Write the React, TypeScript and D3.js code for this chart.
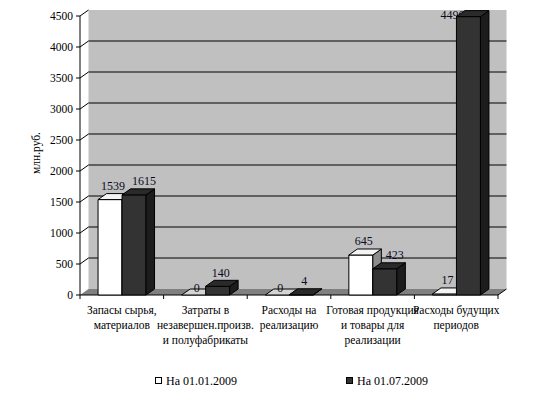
import React from "react";
import * as d3 from "d3";

const categories: string[][] = [
  ["Запасы сырья,", "материалов"],
  ["Затраты в", "незавершен.произв.", "и полуфабрикаты"],
  ["Расходы на", "реализацию"],
  ["Готовая продукция", "и товары для", "реализации"],
  ["Расходы будущих", "периодов"],
];
const seriesNames = ["На 01.01.2009", "На 01.07.2009"];
const values2009Jan = [1539, 0, 0, 645, 17];
const values2009Jul = [1615, 140, 4, 423, 4490];
const yTicks = [0, 500, 1000, 1500, 2000, 2500, 3000, 3500, 4000, 4500];

const W = 537;
const H = 400;
const left = 80;
const right = 498;
const top = 16;
const bottom = 295;
const DX = 8.5;
const DY = 6;
const FONT = "'Liberation Serif', 'Times New Roman', serif";

const colors = [
  { front: "#ffffff", top: "#f4f4f4", side: "#8c8c8c" },
  { front: "#333333", top: "#2a2a2a", side: "#1c1c1c" },
];

export default function App() {
  const idx = categories.map((_, i) => String(i));
  const x0 = d3.scaleBand<string>().domain(idx).range([left, right]).padding(0);
  const bw = x0.bandwidth();
  const x1 = d3
    .scaleBand<string>()
    .domain(["0", "1"])
    .range([bw * 0.216, bw * 0.79])
    .padding(0);
  const w = x1.bandwidth();
  const y = d3.scaleLinear().domain([0, 4500]).range([bottom, top]);
  const series = [values2009Jan, values2009Jul];

  const bars: any[] = [];
  const labelsFront: any[] = [];
  const labelsBack: any[] = [];
  categories.forEach((_, ci) => {
    series.forEach((vals, si) => {
      const v = vals[ci];
      const x = (x0(String(ci)) as number) + (x1(String(si)) as number);
      const yt = y(v);
      const c = colors[si];
      const key = `${ci}-${si}`;
      bars.push(
        <g key={key} stroke="#000" strokeWidth={1} strokeLinejoin="round">
          {v > 0 && (
            <rect x={x} y={yt} width={w} height={bottom - yt} fill={c.front} />
          )}
          {v > 0 && (
            <polygon
              points={`${x + w},${yt} ${x + w + DX},${yt - DY} ${x + w + DX},${bottom - DY} ${x + w},${bottom}`}
              fill={c.side}
            />
          )}
          <polygon
            points={`${x},${yt} ${x + DX},${yt - DY} ${x + w + DX},${yt - DY} ${x + w},${yt}`}
            fill={v > 0 ? c.top : si === 0 ? "#d4d4d4" : "#2a2a2a"}
          />
        </g>
      );
      let ly = v > 0 ? yt - 14 : yt - 7;
      const off = si === 0 ? 3 : v > 300 ? 10 : 3;
      let lx = x + w / 2 + off;
      let clamped = false;
      if (ly < 15) {
        ly = 15;
        lx -= 26;
        clamped = true;
      }
      const el = (
        <text
          key={"l" + key}
          x={lx}
          y={ly}
          dy="0.35em"
          textAnchor="middle"
          fontSize={12}
          fontFamily={FONT}
          fill="#0a0a20"
        >
          {v}
        </text>
      );
      (clamped ? labelsBack : labelsFront).push(el);
    });
  });

  return (
    <svg
      width={W}
      height={H}
      style={{ position: "absolute", left: 0, top: 0 }}
      fontFamily={FONT}
    >
      <rect x={0} y={0} width={W} height={H} fill="#fff" />
      {/* back wall */}
      <rect
        x={left + DX}
        y={top - DY}
        width={right - left}
        height={bottom - top}
        fill="#c0c0c0"
      />
      {/* floor */}
      <polygon
        points={`${left},${bottom} ${left + DX},${bottom - DY} ${right + DX},${bottom - DY} ${right},${bottom}`}
        fill="#808080"
      />
      {/* gridlines */}
      {yTicks.map((t) => (
        <g key={"g" + t} stroke="#000" strokeWidth={1}>
          {t > 0 && t < 4500 && (
            <line x1={left + DX} x2={right + DX} y1={y(t) - DY} y2={y(t) - DY} />
          )}
          {t > 0 && (
            <line x1={left} x2={left + DX} y1={y(t)} y2={y(t) - DY} />
          )}
          <line x1={left - 4} x2={left} y1={y(t)} y2={y(t)} />
        </g>
      ))}
      {/* axes */}
      <line x1={left} x2={left} y1={top} y2={bottom} stroke="#000" />
      <line x1={left} x2={right} y1={bottom} y2={bottom} stroke="#000" />
      <line x1={right} x2={right + DX} y1={bottom} y2={bottom - DY} stroke="#000" />
      {idx.concat(["5"]).map((i) => {
        const xx = i === "5" ? right : (x0(i) as number);
        return (
          <line key={"xt" + i} x1={xx} x2={xx} y1={bottom} y2={bottom + 4} stroke="#000" />
        );
      })}
      {/* y tick labels */}
      {yTicks.map((t) => (
        <text
          key={"yt" + t}
          x={left - 7}
          y={y(t)}
          dy="0.35em"
          textAnchor="end"
          fontSize={11.5}
        >
          {t}
        </text>
      ))}
      <text
        transform={`translate(40,153) rotate(-90)`}
        textAnchor="middle"
        fontSize={11.5}
      >
        млн.руб.
      </text>
      {labelsBack}
      {bars}
      {labelsFront}
      {/* category labels */}
      {categories.map((lines, ci) => (
        <text
          key={"c" + ci}
          textAnchor="middle"
          fontSize={11.5}
          x={(x0(String(ci)) as number) + bw / 2}
          y={314}
        >
          {lines.map((ln, li) => (
            <tspan key={li} x={(x0(String(ci)) as number) + bw / 2} dy={li === 0 ? 0 : 15}>
              {ln}
            </tspan>
          ))}
        </text>
      ))}
      {/* legend */}
      {seriesNames.map((n, i) => {
        const lx = i === 0 ? 155 : 346;
        return (
          <g key={"lg" + i}>
            <rect
              x={lx + 0.5}
              y={377.5}
              width={6}
              height={6}
              fill={colors[i].front}
              stroke="#000"
            />
            <text x={lx + 11} y={381} dy="0.35em" fontSize={12}>
              {n}
            </text>
          </g>
        );
      })}
    </svg>
  );
}
